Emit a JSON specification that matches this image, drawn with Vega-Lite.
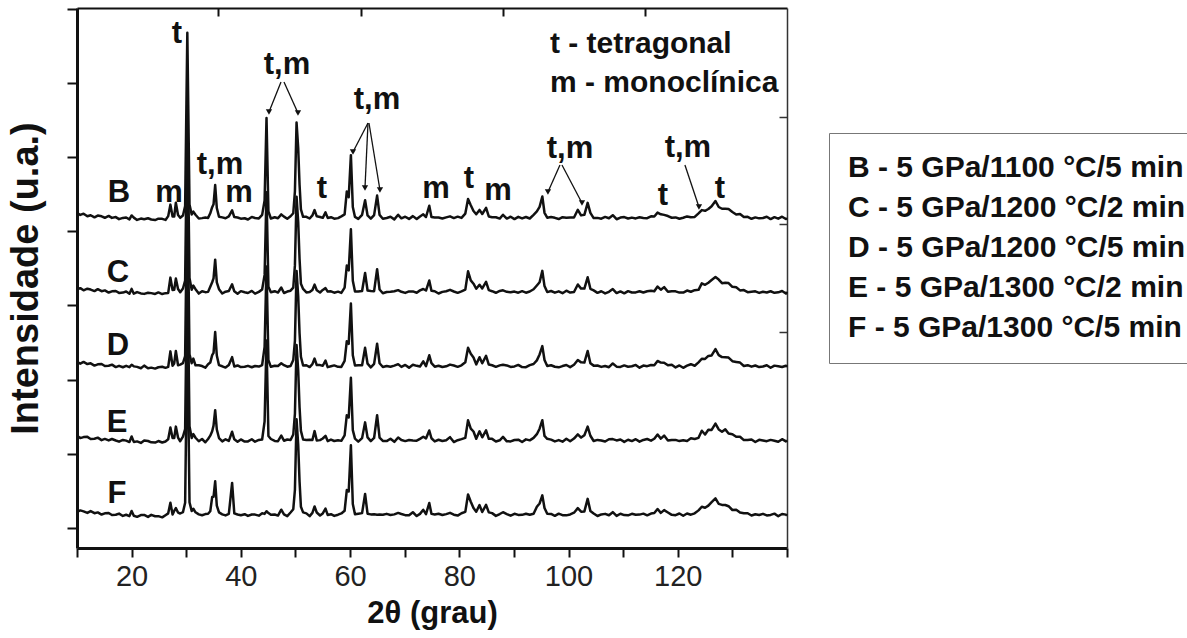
{
  "$schema": "https://vega.github.io/schema/vega-lite/v6.json",
  "width": 710,
  "height": 540,
  "autosize": {"type": "none"},
  "padding": {"left": 77, "top": 8, "right": 400, "bottom": 90},
  "background": "white",
  "config": {"view": {"stroke": null}, "font": "Liberation Sans"},
  "datasets": {
    "xrd": [
{"x":10,"B":4.072,"C":3.046,"D":2.063,"E":1.069,"F":0.042},
{"x":10.6,"B":4.044,"C":3.057,"D":2.040,"E":1.036,"F":0.062},
{"x":11.2,"B":4.061,"C":3.028,"D":2.063,"E":1.050,"F":0.049},
{"x":11.9,"B":4.026,"C":3.050,"D":2.034,"E":1.053,"F":0.028},
{"x":12.5,"B":4.040,"C":3.038,"D":2.044,"E":1.025,"F":0.052},
{"x":13.2,"B":4.012,"C":3.018,"D":2.014,"E":1.027,"F":0.024},
{"x":13.8,"B":4.036,"C":3.043,"D":2.030,"E":1.042,"F":0.035},
{"x":14.5,"B":4.025,"C":3.016,"D":2.035,"E":1.009,"F":0.006},
{"x":15.1,"B":4.006,"C":3.027,"D":2.008,"E":1.025,"F":0.022},
{"x":15.8,"B":4.031,"C":2.998,"D":2.011,"E":1.005,"F":0.027},
{"x":16.4,"B":4.004,"C":3.014,"D":2.026,"E":1.024,"F":0.000},
{"x":17.1,"B":4.015,"C":3.019,"D":1.993,"E":1.004,"F":0.003},
{"x":17.7,"B":3.987,"C":2.993,"D":2.010,"E":0.988,"F":0.019},
{"x":18.4,"B":4.004,"C":2.997,"D":1.991,"E":1.011,"F":-0.013},
{"x":19.0,"B":4.009,"C":3.012,"D":2.010,"E":1.002,"F":0.003},
{"x":19.6,"B":3.984,"C":2.981,"D":1.992,"E":0.983,"F":-0.015},
{"x":20.0,"B":4.037,"C":3.047,"D":2.025,"E":1.058,"F":0.054},
{"x":20.4,"B":4.008,"C":2.983,"D":2.003,"E":0.985,"F":-0.010},
{"x":21.0,"B":3.977,"C":3.004,"D":1.996,"E":0.992,"F":-0.025},
{"x":21.7,"B":3.995,"C":2.986,"D":1.977,"E":0.971,"F":-0.001},
{"x":22.3,"B":3.986,"C":2.980,"D":2.013,"E":1.004,"F":0.001},
{"x":23.0,"B":3.999,"C":2.996,"D":1.978,"E":0.997,"F":-0.026},
{"x":23.6,"B":3.982,"C":2.990,"D":1.986,"E":0.979,"F":0.002},
{"x":24.3,"B":3.975,"C":2.979,"D":1.973,"E":0.976,"F":-0.017},
{"x":24.9,"B":3.993,"C":3.000,"D":1.991,"E":0.997,"F":-0.016},
{"x":25.6,"B":3.991,"C":2.978,"D":1.997,"E":0.977,"F":-0.032},
{"x":26.2,"B":3.977,"C":2.990,"D":1.983,"E":0.991,"F":-0.003},
{"x":26.7,"B":4.028,"C":2.993,"D":1.996,"E":1.020,"F":0.022},
{"x":27.1,"B":4.183,"C":3.199,"D":2.205,"E":1.178,"F":0.165},
{"x":27.5,"B":4.022,"C":3.032,"D":2.012,"E":1.036,"F":0.006},
{"x":27.8,"B":4.023,"C":3.035,"D":2.043,"E":1.036,"F":0.055},
{"x":28.1,"B":4.209,"C":3.186,"D":2.210,"E":1.191,"F":0.092},
{"x":28.5,"B":4.042,"C":3.045,"D":2.018,"E":1.043,"F":0.033},
{"x":28.9,"B":4.005,"C":3.002,"D":2.026,"E":0.994,"F":0.020},
{"x":29.4,"B":4.036,"C":3.053,"D":2.046,"E":1.056,"F":0.038},
{"x":29.8,"B":4.165,"C":3.160,"D":2.141,"E":1.158,"F":0.166},
{"x":30.2,"B":6.50,"C":5.50,"D":4.50,"E":3.50,"F":2.50},
{"x":30.6,"B":4.183,"C":3.196,"D":2.164,"E":1.197,"F":0.171},
{"x":31.0,"B":4.050,"C":3.036,"D":2.046,"E":1.037,"F":0.053},
{"x":31.3,"B":4.088,"C":3.091,"D":2.108,"E":1.090,"F":0.084},
{"x":31.7,"B":4.046,"C":3.043,"D":2.017,"E":1.041,"F":0.036},
{"x":32.3,"B":3.996,"C":2.984,"D":2.017,"E":0.994,"F":0.008},
{"x":32.9,"B":4.001,"C":3.016,"D":2.007,"E":1.024,"F":-0.003},
{"x":33.5,"B":4.008,"C":3.003,"D":1.985,"E":0.980,"F":0.012},
{"x":34.0,"B":4.004,"C":3.007,"D":2.031,"E":1.025,"F":0.017},
{"x":34.4,"B":4.066,"C":3.077,"D":2.054,"E":1.069,"F":0.050},
{"x":34.75,"B":4.148,"C":3.137,"D":2.154,"E":1.129,"F":0.241},
{"x":35.0,"B":4.187,"C":3.190,"D":2.185,"E":1.204,"F":0.244},
{"x":35.3,"B":4.447,"C":3.441,"D":2.465,"E":1.412,"F":0.454},
{"x":35.6,"B":4.137,"C":3.134,"D":2.149,"E":1.152,"F":0.125},
{"x":36.0,"B":4.020,"C":3.044,"D":2.019,"E":1.037,"F":0.035},
{"x":36.6,"B":4.011,"C":2.985,"D":2.004,"E":0.992,"F":0.009},
{"x":37.2,"B":3.999,"C":3.010,"D":1.987,"E":1.020,"F":-0.006},
{"x":37.8,"B":4.024,"C":3.019,"D":2.022,"E":0.998,"F":0.014},
{"x":38.4,"B":4.105,"C":3.109,"D":2.127,"E":1.122,"F":0.432},
{"x":38.8,"B":4.015,"C":3.014,"D":2.002,"E":1.020,"F":0.022},
{"x":39.4,"B":4.009,"C":2.982,"D":2.015,"E":0.986,"F":0.007},
{"x":40.0,"B":3.994,"C":3.017,"D":1.993,"E":1.018,"F":-0.003},
{"x":40.7,"B":3.999,"C":3.002,"D":1.997,"E":0.990,"F":0.010},
{"x":41.3,"B":3.982,"C":2.992,"D":2.010,"E":0.991,"F":-0.012},
{"x":42.0,"B":4.017,"C":3.020,"D":1.991,"E":1.021,"F":0.007},
{"x":42.6,"B":4.002,"C":2.983,"D":2.008,"E":0.988,"F":0.005},
{"x":43.3,"B":3.997,"C":3.007,"D":2.000,"E":1.011,"F":-0.009},
{"x":43.9,"B":4.045,"C":3.040,"D":2.021,"E":1.017,"F":0.023},
{"x":44.35,"B":4.238,"C":3.236,"D":2.266,"E":1.261,"F":0.015},
{"x":44.7,"B":5.35,"C":4.35,"D":3.35,"E":2.35,"F":0.051},
{"x":45.05,"B":4.090,"C":3.075,"D":2.086,"E":1.064,"F":0.026},
{"x":45.5,"B":3.996,"C":3.001,"D":1.997,"E":1.024,"F":0.003},
{"x":46.2,"B":4.013,"C":3.016,"D":2.011,"E":0.998,"F":0.006},
{"x":46.8,"B":4.000,"C":2.998,"D":2.008,"E":0.994,"F":-0.008},
{"x":47.4,"B":4.051,"C":3.066,"D":2.044,"E":1.069,"F":0.071},
{"x":47.9,"B":4.021,"C":2.992,"D":2.019,"E":1.001,"F":0.008},
{"x":48.5,"B":3.993,"C":3.011,"D":1.998,"E":1.017,"F":-0.016},
{"x":49.1,"B":4.026,"C":3.023,"D":2.009,"E":1.010,"F":0.034},
{"x":49.6,"B":4.067,"C":3.064,"D":2.089,"E":1.085,"F":0.078},
{"x":49.9,"B":4.361,"C":3.364,"D":2.346,"E":1.362,"F":0.339},
{"x":50.2,"B":5.29,"C":4.29,"D":3.29,"E":2.29,"F":1.29},
{"x":50.5,"B":4.95,"C":3.95,"D":2.95,"E":1.95,"F":0.95},
{"x":50.75,"B":4.45,"C":3.45,"D":2.45,"E":1.45,"F":0.45},
{"x":51.0,"B":4.118,"C":3.116,"D":2.132,"E":1.133,"F":0.110},
{"x":51.4,"B":4.019,"C":3.047,"D":2.015,"E":1.018,"F":0.035},
{"x":52.0,"B":4.019,"C":3.000,"D":2.018,"E":1.011,"F":0.022},
{"x":52.6,"B":3.996,"C":3.005,"D":1.994,"E":1.015,"F":-0.015},
{"x":53.1,"B":4.037,"C":3.032,"D":2.033,"E":1.011,"F":0.028},
{"x":53.5,"B":4.110,"C":3.105,"D":2.108,"E":1.130,"F":0.114},
{"x":53.9,"B":4.025,"C":3.028,"D":2.021,"E":1.003,"F":0.033},
{"x":54.5,"B":4.017,"C":2.999,"D":2.020,"E":1.009,"F":-0.007},
{"x":55.0,"B":4.005,"C":3.033,"D":2.011,"E":1.031,"F":0.021},
{"x":55.5,"B":4.078,"C":3.058,"D":2.080,"E":1.067,"F":0.085},
{"x":55.9,"B":4.004,"C":3.011,"D":1.993,"E":0.996,"F":0.001},
{"x":56.5,"B":4.013,"C":3.015,"D":2.004,"E":1.016,"F":0.010},
{"x":57.1,"B":3.993,"C":2.996,"D":2.016,"E":0.997,"F":-0.012},
{"x":57.8,"B":4.001,"C":3.010,"D":1.997,"E":1.007,"F":0.004},
{"x":58.4,"B":4.025,"C":2.993,"D":1.996,"E":0.999,"F":0.021},
{"x":59.0,"B":4.051,"C":3.064,"D":2.076,"E":1.072,"F":0.057},
{"x":59.4,"B":4.360,"C":3.361,"D":2.342,"E":1.345,"F":0.336},
{"x":59.75,"B":4.283,"C":3.297,"D":2.307,"E":1.314,"F":0.316},
{"x":60.15,"B":4.85,"C":3.85,"D":2.85,"E":1.85,"F":0.94},
{"x":60.5,"B":4.151,"C":3.156,"D":2.152,"E":1.143,"F":0.147},
{"x":60.9,"B":4.017,"C":3.012,"D":2.015,"E":1.029,"F":0.009},
{"x":61.5,"B":3.991,"C":3.012,"D":2.019,"E":0.989,"F":0.017},
{"x":62.2,"B":4.046,"C":3.019,"D":2.017,"E":1.036,"F":0.025},
{"x":62.75,"B":4.242,"C":3.262,"D":2.253,"E":1.248,"F":0.284},
{"x":63.2,"B":4.037,"C":3.025,"D":2.039,"E":1.045,"F":0.017},
{"x":63.8,"B":3.994,"C":3.019,"D":1.989,"E":0.995,"F":0.008},
{"x":64.4,"B":4.042,"C":3.017,"D":2.036,"E":1.038,"F":0.009},
{"x":64.95,"B":4.305,"C":3.313,"D":2.308,"E":1.345,"F":0.004},
{"x":65.4,"B":4.044,"C":3.039,"D":2.045,"E":1.043,"F":0.006},
{"x":66.0,"B":3.992,"C":2.989,"D":1.995,"E":0.998,"F":0.003},
{"x":66.7,"B":4.003,"C":3.006,"D":2.008,"E":0.996,"F":0.015},
{"x":67.4,"B":4.019,"C":3.008,"D":1.998,"E":1.027,"F":0.000},
{"x":68.1,"B":3.984,"C":3.015,"D":2.013,"E":0.986,"F":0.008},
{"x":68.8,"B":4.046,"C":3.030,"D":2.033,"E":1.045,"F":0.028},
{"x":69.4,"B":3.998,"C":3.008,"D":1.996,"E":1.010,"F":0.013},
{"x":70.1,"B":4.020,"C":2.993,"D":2.022,"E":0.996,"F":-0.002},
{"x":70.8,"B":3.990,"C":3.013,"D":1.986,"E":1.011,"F":-0.004},
{"x":71.5,"B":4.028,"C":3.013,"D":2.025,"E":1.005,"F":0.037},
{"x":72.2,"B":3.988,"C":2.996,"D":2.010,"E":1.002,"F":-0.014},
{"x":72.8,"B":4.023,"C":3.027,"D":2.001,"E":1.026,"F":0.015},
{"x":73.4,"B":4.053,"C":3.046,"D":2.071,"E":1.054,"F":0.070},
{"x":73.9,"B":4.016,"C":3.025,"D":2.005,"E":1.032,"F":0.011},
{"x":74.5,"B":4.167,"C":3.160,"D":2.152,"E":1.139,"F":0.161},
{"x":74.9,"B":4.016,"C":3.021,"D":2.046,"E":1.034,"F":0.015},
{"x":75.5,"B":4.010,"C":3.016,"D":1.999,"E":0.992,"F":0.007},
{"x":76.2,"B":4.010,"C":2.985,"D":2.012,"E":1.014,"F":0.016},
{"x":76.9,"B":3.996,"C":3.007,"D":1.994,"E":0.997,"F":-0.001},
{"x":77.6,"B":4.011,"C":3.016,"D":2.004,"E":1.007,"F":0.012},
{"x":78.3,"B":4.025,"C":3.034,"D":2.027,"E":1.049,"F":0.029},
{"x":79.0,"B":4.002,"C":3.012,"D":2.014,"E":0.983,"F":0.004},
{"x":79.7,"B":4.021,"C":2.994,"D":1.997,"E":1.008,"F":-0.008},
{"x":80.4,"B":4.004,"C":3.014,"D":2.017,"E":1.023,"F":0.024},
{"x":81.1,"B":4.062,"C":3.037,"D":2.059,"E":1.040,"F":0.042},
{"x":81.6,"B":4.259,"C":3.284,"D":2.253,"E":1.276,"F":0.277},
{"x":82.1,"B":4.174,"C":3.162,"D":2.173,"E":1.165,"F":0.179},
{"x":82.6,"B":4.097,"C":3.117,"D":2.123,"E":1.125,"F":0.093},
{"x":83.1,"B":4.054,"C":3.049,"D":2.030,"E":1.028,"F":0.043},
{"x":83.7,"B":4.112,"C":3.103,"D":2.126,"E":1.128,"F":0.133},
{"x":84.2,"B":4.057,"C":3.053,"D":2.045,"E":1.047,"F":0.040},
{"x":84.9,"B":4.139,"C":3.143,"D":2.145,"E":1.141,"F":0.136},
{"x":85.4,"B":4.023,"C":3.030,"D":2.028,"E":1.026,"F":0.035},
{"x":86.0,"B":4.013,"C":3.016,"D":2.018,"E":1.026,"F":0.025},
{"x":86.7,"B":4.013,"C":2.995,"D":1.997,"E":0.991,"F":-0.012},
{"x":87.4,"B":3.995,"C":3.020,"D":2.016,"E":1.007,"F":0.013},
{"x":88.0,"B":4.046,"C":3.028,"D":2.026,"E":1.052,"F":0.037},
{"x":88.7,"B":3.995,"C":3.008,"D":2.016,"E":0.993,"F":0.011},
{"x":89.4,"B":4.020,"C":3.002,"D":1.996,"E":0.992,"F":-0.009},
{"x":90.1,"B":3.988,"C":3.011,"D":2.002,"E":1.010,"F":0.016},
{"x":90.8,"B":4.018,"C":2.996,"D":2.022,"E":1.015,"F":0.001},
{"x":91.5,"B":3.997,"C":3.016,"D":1.993,"E":0.984,"F":0.002},
{"x":92.2,"B":4.016,"C":2.996,"D":1.992,"E":1.019,"F":0.017},
{"x":92.9,"B":3.996,"C":3.012,"D":2.020,"E":1.006,"F":0.003},
{"x":93.6,"B":4.046,"C":3.042,"D":2.035,"E":1.039,"F":0.017},
{"x":94.2,"B":4.091,"C":3.093,"D":2.084,"E":1.089,"F":0.110},
{"x":94.7,"B":4.152,"C":3.137,"D":2.164,"E":1.163,"F":0.155},
{"x":95.2,"B":4.292,"C":3.290,"D":2.276,"E":1.278,"F":0.264},
{"x":95.6,"B":4.073,"C":3.085,"D":2.089,"E":1.065,"F":0.094},
{"x":96.1,"B":4.007,"C":3.004,"D":2.009,"E":1.027,"F":0.016},
{"x":96.8,"B":4.015,"C":3.019,"D":2.018,"E":1.016,"F":0.014},
{"x":97.5,"B":4.005,"C":2.996,"D":1.998,"E":0.992,"F":-0.011},
{"x":98.2,"B":3.989,"C":3.014,"D":1.990,"E":1.009,"F":0.018},
{"x":98.9,"B":4.014,"C":2.989,"D":2.007,"E":0.988,"F":-0.002},
{"x":99.6,"B":4.006,"C":3.023,"D":2.021,"E":1.027,"F":-0.005},
{"x":100.3,"B":4.009,"C":2.998,"D":1.992,"E":0.994,"F":0.007},
{"x":101.0,"B":4.009,"C":3.005,"D":2.024,"E":1.030,"F":0.031},
{"x":101.7,"B":4.113,"C":3.107,"D":2.088,"E":1.086,"F":0.092},
{"x":102.3,"B":4.038,"C":3.051,"D":2.057,"E":1.043,"F":0.044},
{"x":102.9,"B":4.045,"C":3.052,"D":2.054,"E":1.075,"F":0.048},
{"x":103.5,"B":4.207,"C":3.204,"D":2.210,"E":1.191,"F":0.217},
{"x":104.0,"B":4.071,"C":3.048,"D":2.046,"E":1.068,"F":0.054},
{"x":104.6,"B":4.002,"C":3.027,"D":2.013,"E":0.997,"F":0.020},
{"x":105.3,"B":4.004,"C":2.994,"D":2.015,"E":1.012,"F":-0.014},
{"x":106.0,"B":3.993,"C":3.015,"D":1.996,"E":1.004,"F":0.008},
{"x":106.7,"B":4.017,"C":2.986,"D":2.008,"E":0.990,"F":0.015},
{"x":107.4,"B":3.999,"C":3.008,"D":1.992,"E":1.021,"F":-0.004},
{"x":108.1,"B":4.040,"C":3.045,"D":2.042,"E":1.023,"F":0.038},
{"x":108.8,"B":3.986,"C":2.991,"D":1.999,"E":1.005,"F":-0.013},
{"x":109.5,"B":4.008,"C":3.013,"D":1.995,"E":1.018,"F":0.017},
{"x":110.2,"B":4.015,"C":2.987,"D":2.016,"E":0.985,"F":-0.001},
{"x":110.9,"B":3.996,"C":3.017,"D":1.998,"E":1.014,"F":-0.005},
{"x":111.6,"B":4.008,"C":2.999,"D":2.005,"E":0.996,"F":0.016},
{"x":112.3,"B":3.997,"C":3.000,"D":2.023,"E":1.021,"F":0.003},
{"x":113.0,"B":4.012,"C":3.016,"D":1.985,"E":0.988,"F":0.005},
{"x":113.7,"B":4.004,"C":2.998,"D":2.014,"E":1.011,"F":0.018},
{"x":114.4,"B":4.000,"C":3.015,"D":2.006,"E":1.024,"F":-0.005},
{"x":115.1,"B":4.026,"C":3.023,"D":2.021,"E":1.002,"F":0.019},
{"x":115.7,"B":4.023,"C":3.015,"D":2.018,"E":1.027,"F":0.026},
{"x":116.3,"B":4.075,"C":3.079,"D":2.076,"E":1.085,"F":0.081},
{"x":116.9,"B":4.053,"C":3.036,"D":2.054,"E":1.029,"F":0.028},
{"x":117.5,"B":4.045,"C":3.071,"D":2.052,"E":1.070,"F":0.066},
{"x":118.2,"B":4.029,"C":3.008,"D":2.017,"E":1.004,"F":0.034},
{"x":118.9,"B":4.006,"C":3.016,"D":2.025,"E":1.012,"F":0.002},
{"x":119.6,"B":4.011,"C":3.014,"D":1.989,"E":1.012,"F":-0.003},
{"x":120.3,"B":3.993,"C":2.997,"D":2.015,"E":0.996,"F":0.020},
{"x":121.0,"B":4.006,"C":2.997,"D":1.984,"E":1.007,"F":-0.011},
{"x":121.7,"B":4.024,"C":3.025,"D":2.012,"E":0.996,"F":0.020},
{"x":122.4,"B":4.012,"C":3.009,"D":2.032,"E":1.033,"F":0.004},
{"x":123.1,"B":4.017,"C":3.030,"D":2.011,"E":1.024,"F":0.022},
{"x":123.8,"B":4.065,"C":3.034,"D":2.057,"E":1.040,"F":0.062},
{"x":124.4,"B":4.109,"C":3.122,"D":2.106,"E":1.136,"F":0.111},
{"x":125.0,"B":4.100,"C":3.102,"D":2.103,"E":1.085,"F":0.097},
{"x":125.6,"B":4.124,"C":3.131,"D":2.144,"E":1.148,"F":0.126},
{"x":126.2,"B":4.162,"C":3.167,"D":2.150,"E":1.147,"F":0.173},
{"x":126.9,"B":4.232,"C":3.206,"D":2.236,"E":1.231,"F":0.224},
{"x":127.5,"B":4.151,"C":3.173,"D":2.155,"E":1.153,"F":0.150},
{"x":128.1,"B":4.127,"C":3.124,"D":2.128,"E":1.123,"F":0.136},
{"x":128.7,"B":4.126,"C":3.130,"D":2.127,"E":1.154,"F":0.135},
{"x":129.3,"B":4.123,"C":3.126,"D":2.121,"E":1.098,"F":0.118},
{"x":130.0,"B":4.084,"C":3.075,"D":2.073,"E":1.089,"F":0.067},
{"x":130.7,"B":4.050,"C":3.068,"D":2.063,"E":1.054,"F":0.071},
{"x":131.4,"B":4.056,"C":3.027,"D":2.054,"E":1.055,"F":0.033},
{"x":132.1,"B":4.015,"C":3.031,"D":2.008,"E":1.009,"F":0.023},
{"x":132.8,"B":4.018,"C":3.003,"D":2.019,"E":1.011,"F":0.024},
{"x":133.5,"B":3.992,"C":3.008,"D":1.999,"E":1.018,"F":-0.007},
{"x":134.2,"B":4.011,"C":3.014,"D":2.015,"E":0.984,"F":0.009},
{"x":134.9,"B":3.998,"C":2.993,"D":1.994,"E":1.013,"F":-0.001},
{"x":135.6,"B":4.003,"C":3.009,"D":2.001,"E":1.005,"F":0.015},
{"x":136.3,"B":4.019,"C":2.999,"D":2.018,"E":0.995,"F":-0.006},
{"x":137.0,"B":3.988,"C":3.015,"D":1.984,"E":1.012,"F":0.001},
{"x":137.7,"B":4.014,"C":2.994,"D":2.013,"E":1.001,"F":0.018},
{"x":138.4,"B":3.994,"C":3.001,"D":2.005,"E":0.986,"F":-0.016},
{"x":139.1,"B":4.020,"C":3.018,"D":1.995,"E":1.022,"F":0.013},
{"x":139.8,"B":3.989,"C":2.984,"D":2.012,"E":0.992,"F":0.005},
{"x":140.0,"B":4.001,"C":3.008,"D":1.996,"E":1.006,"F":-0.010}
    ],
    "peaklabels": [
      {"x":28.31,"y":6.361,"t":"t"},
      {"x":48.45,"y":5.943,"t":"t,m"},
      {"x":64.93,"y":5.472,"t":"t,m"},
      {"x":36.18,"y":4.60,"t":"t,m"},
      {"x":39.66,"y":4.218,"t":"m"},
      {"x":17.69,"y":4.218,"t":"B"},
      {"x":26.84,"y":4.218,"t":"m"},
      {"x":54.86,"y":4.272,"t":"t"},
      {"x":75.73,"y":4.272,"t":"m"},
      {"x":81.77,"y":4.407,"t":"t"},
      {"x":87.08,"y":4.245,"t":"m"},
      {"x":100.26,"y":4.811,"t":"t,m"},
      {"x":117.29,"y":4.178,"t":"t"},
      {"x":121.86,"y":4.825,"t":"t,m"},
      {"x":127.72,"y":4.272,"t":"t"},
      {"x":17.51,"y":3.140,"t":"C"},
      {"x":17.51,"y":2.156,"t":"D"},
      {"x":17.32,"y":1.119,"t":"E"},
      {"x":17.32,"y":0.162,"t":"F"}
    ],
    "phases": [
      {"x":96.6,"y":6.226,"t":"t - tetragonal"},
      {"x":96.6,"y":5.701,"t":"m - monoclínica"}
    ],
    "arrows": [
      {"x":47.35,"y":5.836,"x2":45.15,"y2":5.431},
      {"x":47.90,"y":5.836,"x2":50.46,"y2":5.418},
      {"x":63.28,"y":5.283,"x2":60.53,"y2":4.892},
      {"x":63.28,"y":5.283,"x2":62.73,"y2":4.407},
      {"x":63.46,"y":5.283,"x2":65.47,"y2":4.380},
      {"x":98.43,"y":4.717,"x2":96.23,"y2":4.353},
      {"x":98.80,"y":4.717,"x2":102.46,"y2":4.205},
      {"x":121.31,"y":4.717,"x2":123.88,"y2":4.151}
    ]
  },
  "resolve": {"axis": {"x": "independent", "y": "independent"}},
  "layer": [
    {
      "data": {"name": "xrd"},
      "transform": [
        {"fold": ["B", "C", "D", "E", "F"], "as": ["s", "v"]},
        {"lookup": "s", "from": {"data": {"values": [
          {"s": "B", "label": "B - 5 GPa/1100 °C/5 min"},
          {"s": "C", "label": "C - 5 GPa/1200 °C/2 min"},
          {"s": "D", "label": "D - 5 GPa/1200 °C/5 min"},
          {"s": "E", "label": "E - 5 GPa/1300 °C/2 min"},
          {"s": "F", "label": "F - 5 GPa/1300 °C/5 min"}
        ]}, "key": "s", "fields": ["label"]}}
      ],
      "mark": {"type": "line", "strokeWidth": 2.5, "strokeJoin": "round"},
      "encoding": {
        "x": {
          "field": "x", "type": "quantitative",
          "scale": {"domain": [10, 140], "nice": false, "zero": false},
          "axis": {
            "orient": "bottom",
            "values": [10, 20, 30, 40, 50, 60, 70, 80, 90, 100, 110, 120, 130, 140],
            "labelExpr": "(datum.value % 20 == 0 && datum.value >= 20 && datum.value <= 120) ? datum.label : ''",
            "grid": false,
            "domainWidth": 3, "domainColor": "#111",
            "tickColor": "#111", "tickWidth": 2, "tickSize": 9,
            "labelFont": "Liberation Sans", "labelFontSize": 29, "labelColor": "#222",
            "labelPadding": 5, "labelFlush": false, "labelOverlap": false, "labelBound": false,
            "title": "2θ (grau)",
            "titleFont": "Liberation Sans", "titleFontSize": 31, "titleFontWeight": "bold",
            "titleColor": "#111", "titleBaseline": "alphabetic", "titleY": 74
          }
        },
        "y": {
          "field": "v", "type": "quantitative",
          "scale": {"domain": [-0.445, 6.833], "nice": false, "zero": false},
          "axis": {
            "orient": "left",
            "values": [-0.175, 0.825, 1.825, 2.825, 3.825, 4.825, 5.825, 6.825],
            "labels": false, "grid": false,
            "domainWidth": 3, "domainColor": "#111",
            "tickColor": "#111", "tickWidth": 2, "tickSize": 10,
            "title": "Intensidade (u.a.)",
            "titleFont": "Liberation Sans", "titleFontSize": 38, "titleFontWeight": "bold",
            "titleColor": "#111", "titleBaseline": "alphabetic", "titleX": -40
          }
        },
        "color": {
          "field": "label", "type": "nominal",
          "scale": {
            "domain": ["B - 5 GPa/1100 °C/5 min", "C - 5 GPa/1200 °C/2 min", "D - 5 GPa/1200 °C/5 min", "E - 5 GPa/1300 °C/2 min", "F - 5 GPa/1300 °C/5 min"],
            "range": ["#111", "#111", "#111", "#111", "#111"]
          },
          "legend": {
            "title": null, "orient": "none", "legendX": 752, "legendY": 125,
            "direction": "vertical",
            "strokeColor": "#777", "fillColor": "white", "padding": 20,
            "labelFont": "Liberation Sans", "labelFontSize": 30, "labelFontWeight": "bold",
            "labelColor": "#111", "labelLimit": 600, "labelOffset": -31,
            "symbolSize": 0, "symbolOpacity": 0, "symbolStrokeWidth": 0,
            "rowPadding": 10
          }
        }
      }
    },
    {
      "data": {"name": "peaklabels"},
      "mark": {"type": "text", "font": "Liberation Sans", "fontSize": 31, "fontWeight": "bold", "align": "center", "baseline": "alphabetic", "color": "#111"},
      "encoding": {
        "x": {
          "field": "x", "type": "quantitative",
          "scale": {"domain": [10, 140], "nice": false, "zero": false},
          "axis": {
            "orient": "top", "values": [35.8, 62, 88, 114],
            "labels": false, "grid": false, "title": null,
            "domainWidth": 2, "domainColor": "#111",
            "tickColor": "#111", "tickWidth": 2, "tickSize": -8
          }
        },
        "y": {
          "field": "y", "type": "quantitative",
          "scale": {"domain": [-0.445, 6.833], "nice": false, "zero": false},
          "axis": {
            "orient": "right", "values": [5.364, 3.922, 2.466],
            "labels": false, "grid": false, "title": null,
            "domainWidth": 1.5, "domainColor": "#333",
            "tickColor": "#333", "tickWidth": 1.5, "tickSize": -8
          }
        },
        "text": {"field": "t"}
      }
    },
    {
      "data": {"name": "phases"},
      "mark": {"type": "text", "font": "Liberation Sans", "fontSize": 30, "fontWeight": "bold", "align": "left", "baseline": "alphabetic", "color": "#111"},
      "encoding": {
        "x": {"field": "x", "type": "quantitative", "axis": null},
        "y": {"field": "y", "type": "quantitative", "axis": null},
        "text": {"field": "t"}
      }
    },
    {
      "data": {"name": "arrows"},
      "mark": {"type": "rule", "strokeWidth": 1.3, "color": "#111"},
      "encoding": {
        "x": {"field": "x", "type": "quantitative", "axis": null},
        "y": {"field": "y", "type": "quantitative", "axis": null},
        "x2": {"field": "x2"},
        "y2": {"field": "y2"}
      }
    },
    {
      "data": {"name": "arrows"},
      "mark": {"type": "point", "shape": "triangle-down", "size": 40, "filled": true, "color": "#111", "opacity": 1},
      "encoding": {
        "x": {"field": "x2", "type": "quantitative", "axis": null},
        "y": {"field": "y2", "type": "quantitative", "axis": null}
      }
    }
  ]
}
